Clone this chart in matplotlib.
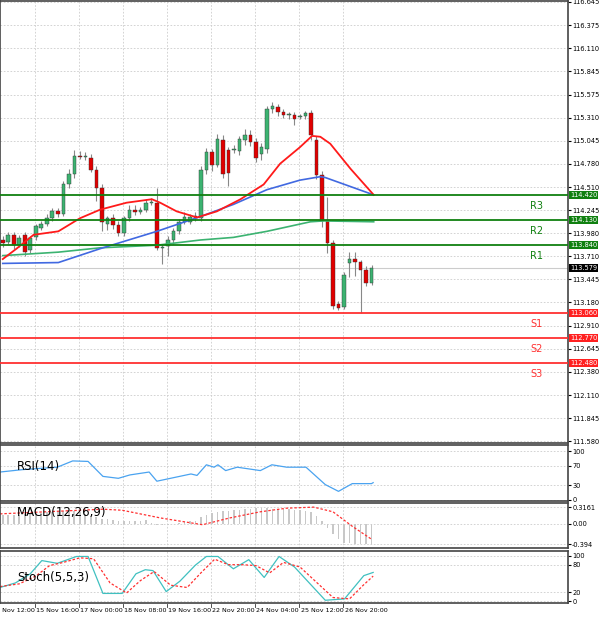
import matplotlib
matplotlib.use("Agg")
import matplotlib.pyplot as plt
import matplotlib.transforms as mtrans

opens = [113.90,113.88,113.96,113.84,113.96,113.78,113.94,114.04,114.09,114.15,
         114.23,114.20,114.54,114.66,114.87,114.86,114.85,114.71,114.50,114.09,
         114.15,114.07,113.98,114.15,114.25,114.22,114.25,114.33,114.33,113.81,
         113.83,113.90,114.00,114.11,114.11,114.18,114.15,114.71,114.91,114.76,
         115.05,114.94,114.94,114.93,115.05,115.11,115.03,114.89,114.95,115.41,
         115.43,115.38,115.34,115.34,115.32,115.33,115.36,115.05,114.65,114.12,
         113.87,113.16,113.13,113.63,113.68,113.65,113.55,113.41]
closes = [113.86,113.96,113.84,113.92,113.76,113.92,114.06,114.09,114.15,114.23,
          114.20,114.54,114.66,114.87,114.86,114.86,114.71,114.50,114.11,114.15,
          114.07,113.98,114.15,114.25,114.22,114.25,114.33,114.33,113.81,113.81,
          113.90,114.00,114.11,114.17,114.17,114.15,114.71,114.91,114.76,115.06,
          114.66,114.67,114.94,115.06,115.11,115.03,114.85,114.97,115.41,115.44,
          115.38,115.34,115.34,115.30,115.33,115.36,115.11,114.65,114.12,113.87,
          113.14,113.12,113.50,113.68,113.65,113.55,113.41,113.58]
highs = [113.95,113.99,113.99,113.96,113.99,113.95,114.09,114.12,114.20,114.27,
         114.27,114.58,114.72,114.94,114.93,114.92,114.89,114.75,114.54,114.18,
         114.20,114.12,114.18,114.30,114.30,114.28,114.37,114.38,114.50,113.85,
         113.95,114.04,114.14,114.22,114.20,114.22,114.75,114.96,114.95,115.12,
         115.11,114.97,114.99,115.10,115.18,115.17,115.08,115.02,115.44,115.49,
         115.47,115.41,115.37,115.37,115.35,115.39,115.40,115.10,114.70,114.39,
         113.90,113.20,113.53,113.76,113.76,113.67,113.60,113.61]
lows = [113.82,113.85,113.80,113.82,113.72,113.75,113.90,114.01,114.06,114.12,
        114.16,114.18,114.50,114.62,114.83,114.82,114.68,114.35,114.00,114.02,
        114.03,113.95,113.95,114.12,114.19,114.20,114.22,114.30,113.78,113.62,
        113.72,113.85,113.97,114.08,114.08,114.12,114.12,114.66,114.70,114.74,
        114.62,114.52,114.90,114.88,115.00,114.98,114.80,114.82,114.90,115.36,
        115.33,115.31,115.30,115.23,115.29,115.30,115.05,114.60,114.05,113.75,
        113.10,113.09,113.10,113.47,113.48,113.06,113.37,113.38]

red_ma_x = [0,2.5,5.6,10.1,14,17.7,22.5,27.1,28.6,31.6,35.3,38.9,43.2,47.4,50.4,54,56.2,57.7,59.5,63.2,67.4]
red_ma_y = [113.68,113.80,113.96,114.00,114.15,114.25,114.33,114.37,114.33,114.23,114.16,114.23,114.37,114.54,114.78,114.97,115.10,115.09,115.01,114.72,114.42]
blue_ma_x = [0,10.1,17.7,28,35.9,41.9,48,54,57.7,58.6,67.4]
blue_ma_y = [113.63,113.64,113.80,114.00,114.17,114.31,114.48,114.59,114.63,114.62,114.42]
green_ma_x = [0,10.1,17.7,28,35.9,41.9,48,55.9,58.3,67.4]
green_ma_y = [113.72,113.76,113.81,113.84,113.90,113.93,114.00,114.11,114.12,114.11]

resist = [114.420,114.130,113.840]
resist_names = ["R3","R2","R1"]
support = [113.060,112.770,112.480]
support_names = ["S1","S2","S3"]
last_price = 113.579
price_ticks = [116.645,116.375,116.110,115.845,115.575,115.310,115.045,114.780,114.510,114.245,
               113.980,113.710,113.445,113.180,112.910,112.645,112.380,112.110,111.845,111.580]

rsi_x = [-0.5,3.6,9.9,12.7,15.5,18.2,21,23.1,26.6,28,34.2,35.3,37,38.4,39.1,40.5,42.6,46.8,48.9,51.6,55.1,58.6,61,63.5,67,67.3]
rsi_y = [57,62,67,80,79,48,44,51,57,38,53,50,72,67,72,60,67,60,72,67,67,31,17,33,33,35]

macd_hist = [0.17,0.16,0.17,0.16,0.18,0.19,0.20,0.21,0.22,0.23,
             0.24,0.25,0.26,0.25,0.22,0.18,0.14,0.12,0.10,0.09,
             0.08,0.06,0.05,0.05,0.06,0.06,0.07,0.02,-0.02,-0.03,
             -0.02,-0.01,0.01,0.04,0.05,0.06,0.12,0.17,0.20,0.22,
             0.24,0.24,0.26,0.27,0.28,0.29,0.30,0.30,0.30,0.29,
             0.29,0.28,0.28,0.27,0.26,0.25,0.22,0.15,0.05,-0.08,
             -0.20,-0.30,-0.38,-0.38,-0.39,-0.40,-0.40,-0.42]
macd_sig_x = [-0.5,7.8,18.2,21.7,28.7,36.3,41.2,46.8,51.6,56.5,60,63.5,67]
macd_sig_y = [0.19,0.23,0.28,0.26,0.11,-0.02,0.11,0.23,0.30,0.32,0.23,-0.05,-0.30]

stoch_x = [-0.5,2.3,5.0,7.1,9.9,13.4,15.5,18.2,21.7,24.2,25.9,27.3,29.7,32.2,35,37,39.1,41.9,44.7,47.5,50.2,53,58.6,62.1,65.6,67.3]
stoch_y = [30,40,60,89,83,98,98,17,17,60,69,67,21,44,79,98,98,71,91,52,98,75,2,5,56,63]
stsig_x = [-0.5,3,6,8.5,11,14,16.5,19.5,22.5,25,27.5,30.5,33.5,36,38.5,41,43.5,46,48.5,51,54,60,63,65.5,67.3]
stsig_y = [32,38,55,78,85,95,93,40,18,45,65,35,30,62,92,80,80,78,62,85,75,8,5,35,55]

date_labels = ["14 Nov 12:00","15 Nov 16:00","17 Nov 00:00","18 Nov 08:00","19 Nov 16:00",
               "22 Nov 20:00","24 Nov 04:00","25 Nov 12:00","26 Nov 20:00"]

RED = "#e00000"
XL = (-0.5, 102.7)
FS = 4.8
fig = plt.figure(figsize=(6, 6.2), dpi=100)
W = 568/600
def mk(top, bot):
    return fig.add_axes([0, 1-bot/620, W, (bot-top)/620])
ax = mk(1, 443); ar = mk(445, 501); am = mk(503, 548); ast = mk(551, 603)
for a in (ax, ar, am, ast):
    a.set_xlim(*XL)
    a.yaxis.tick_right()
    a.tick_params(axis="y", labelsize=FS, length=2, pad=1)
    a.set_xticks([])
    for s in a.spines.values():
        s.set_color("#444444"); s.set_linewidth(1.2)
    a.grid(axis="y", color="#cccccc", ls=(0, (2, 2)), lw=0.6)

tick_pos = [-2.2 + 8*i for i in range(9)]
for a in (ax, ar, am, ast):
    for t in tick_pos:
        a.axvline(t, color="#cccccc", ls=(0, (2, 2)), lw=0.6, zorder=0)

ax.set_ylim(111.56, 116.655)
ax.set_yticks(price_ticks)
ax.set_yticklabels([f"{v:.3f}" for v in price_ticks])
for i, (o, h, l, c) in enumerate(zip(opens, highs, lows, closes)):
    col = "#3cb371" if c >= o else RED
    ax.vlines(i, l, h, color="#888888", lw=0.8, zorder=2)
    ax.bar(i, max(abs(c-o), 0.008), bottom=min(o, c), width=0.65, color=col,
           edgecolor="#333333", lw=0.3, zorder=3)
ax.plot(green_ma_x, green_ma_y, color="#3cb371", lw=1.2, zorder=4)
ax.plot(blue_ma_x, blue_ma_y, color="#4169e1", lw=1.2, zorder=4)
ax.plot(red_ma_x, red_ma_y, color="#ff1a1a", lw=1.3, zorder=4)
tr = mtrans.blended_transform_factory(ax.transAxes, ax.transData)
box = dict(boxstyle="square,pad=0.12", ec="none")
for v, n in zip(resist, resist_names):
    ax.axhline(v, color="#108010", lw=1.3, zorder=5)
    ax.text(0.945, v-0.07, n, transform=tr, color="#108010", fontsize=7, ha="center", va="top")
    ax.text(1.004, v, f"{v:.3f}", transform=tr, fontsize=FS, color="white", va="center",
            bbox=dict(box, fc="#108010"), clip_on=False, zorder=10)
for v, n in zip(support, support_names):
    ax.axhline(v, color="#ff3030", lw=1.3, zorder=5)
    ax.text(0.945, v-0.07, n, transform=tr, color="#ff3030", fontsize=7, ha="center", va="top")
    ax.text(1.004, v, f"{v:.3f}", transform=tr, fontsize=FS, color="white", va="center",
            bbox=dict(box, fc="#ff2020"), clip_on=False, zorder=10)
ax.axhline(last_price, color="#cccccc", lw=0.8, zorder=1)
ax.text(1.004, last_price, f"{last_price:.3f}", transform=tr, fontsize=FS, color="white", va="center",
        bbox=dict(box, fc="black"), clip_on=False, zorder=10)

ar.set_ylim(-3, 113)
ar.set_yticks([0, 30, 70, 100])
ar.plot(rsi_x, rsi_y, color="#4aa3f0", lw=0.9)
ar.text(0.03, 0.62, "RSI(14)", transform=ar.transAxes, fontsize=8.5, va="center")

am.set_ylim(-0.47, 0.40)
am.set_yticks([-0.394, 0.0, 0.3161])
am.set_yticklabels(["-0.394", "0.00", "0.3161"])
am.bar(range(len(macd_hist)), macd_hist, width=0.3, color="#c8c8c8")
am.plot(macd_sig_x, macd_sig_y, color="#ff3030", lw=0.9, ls=(0, (2, 1.5)))
am.text(0.03, 0.78, "MACD(12,26,9)", transform=am.transAxes, fontsize=8.5, va="center")

ast.set_ylim(-4, 110)
ast.set_yticks([0, 20, 80, 100])
ast.plot(stoch_x, stoch_y, color="#40c0c0", lw=0.9)
ast.plot(stsig_x, stsig_y, color="#ff3030", lw=0.9, ls=(0, (2, 1.5)))
ast.text(0.03, 0.5, "Stoch(5,5,3)", transform=ast.transAxes, fontsize=8.5, va="center")

trd = mtrans.blended_transform_factory(ast.transData, fig.transFigure)
for t, lab in zip(tick_pos, date_labels):
    ast.text(t+0.3, 1-610/620, lab, transform=trd, fontsize=4.6, va="center", ha="left", clip_on=False)
    ast.plot([t, t], [1-604/620, 1-607/620], transform=trd, color="#333333", lw=0.6, clip_on=False)

fig.savefig("out.png", dpi=100)
